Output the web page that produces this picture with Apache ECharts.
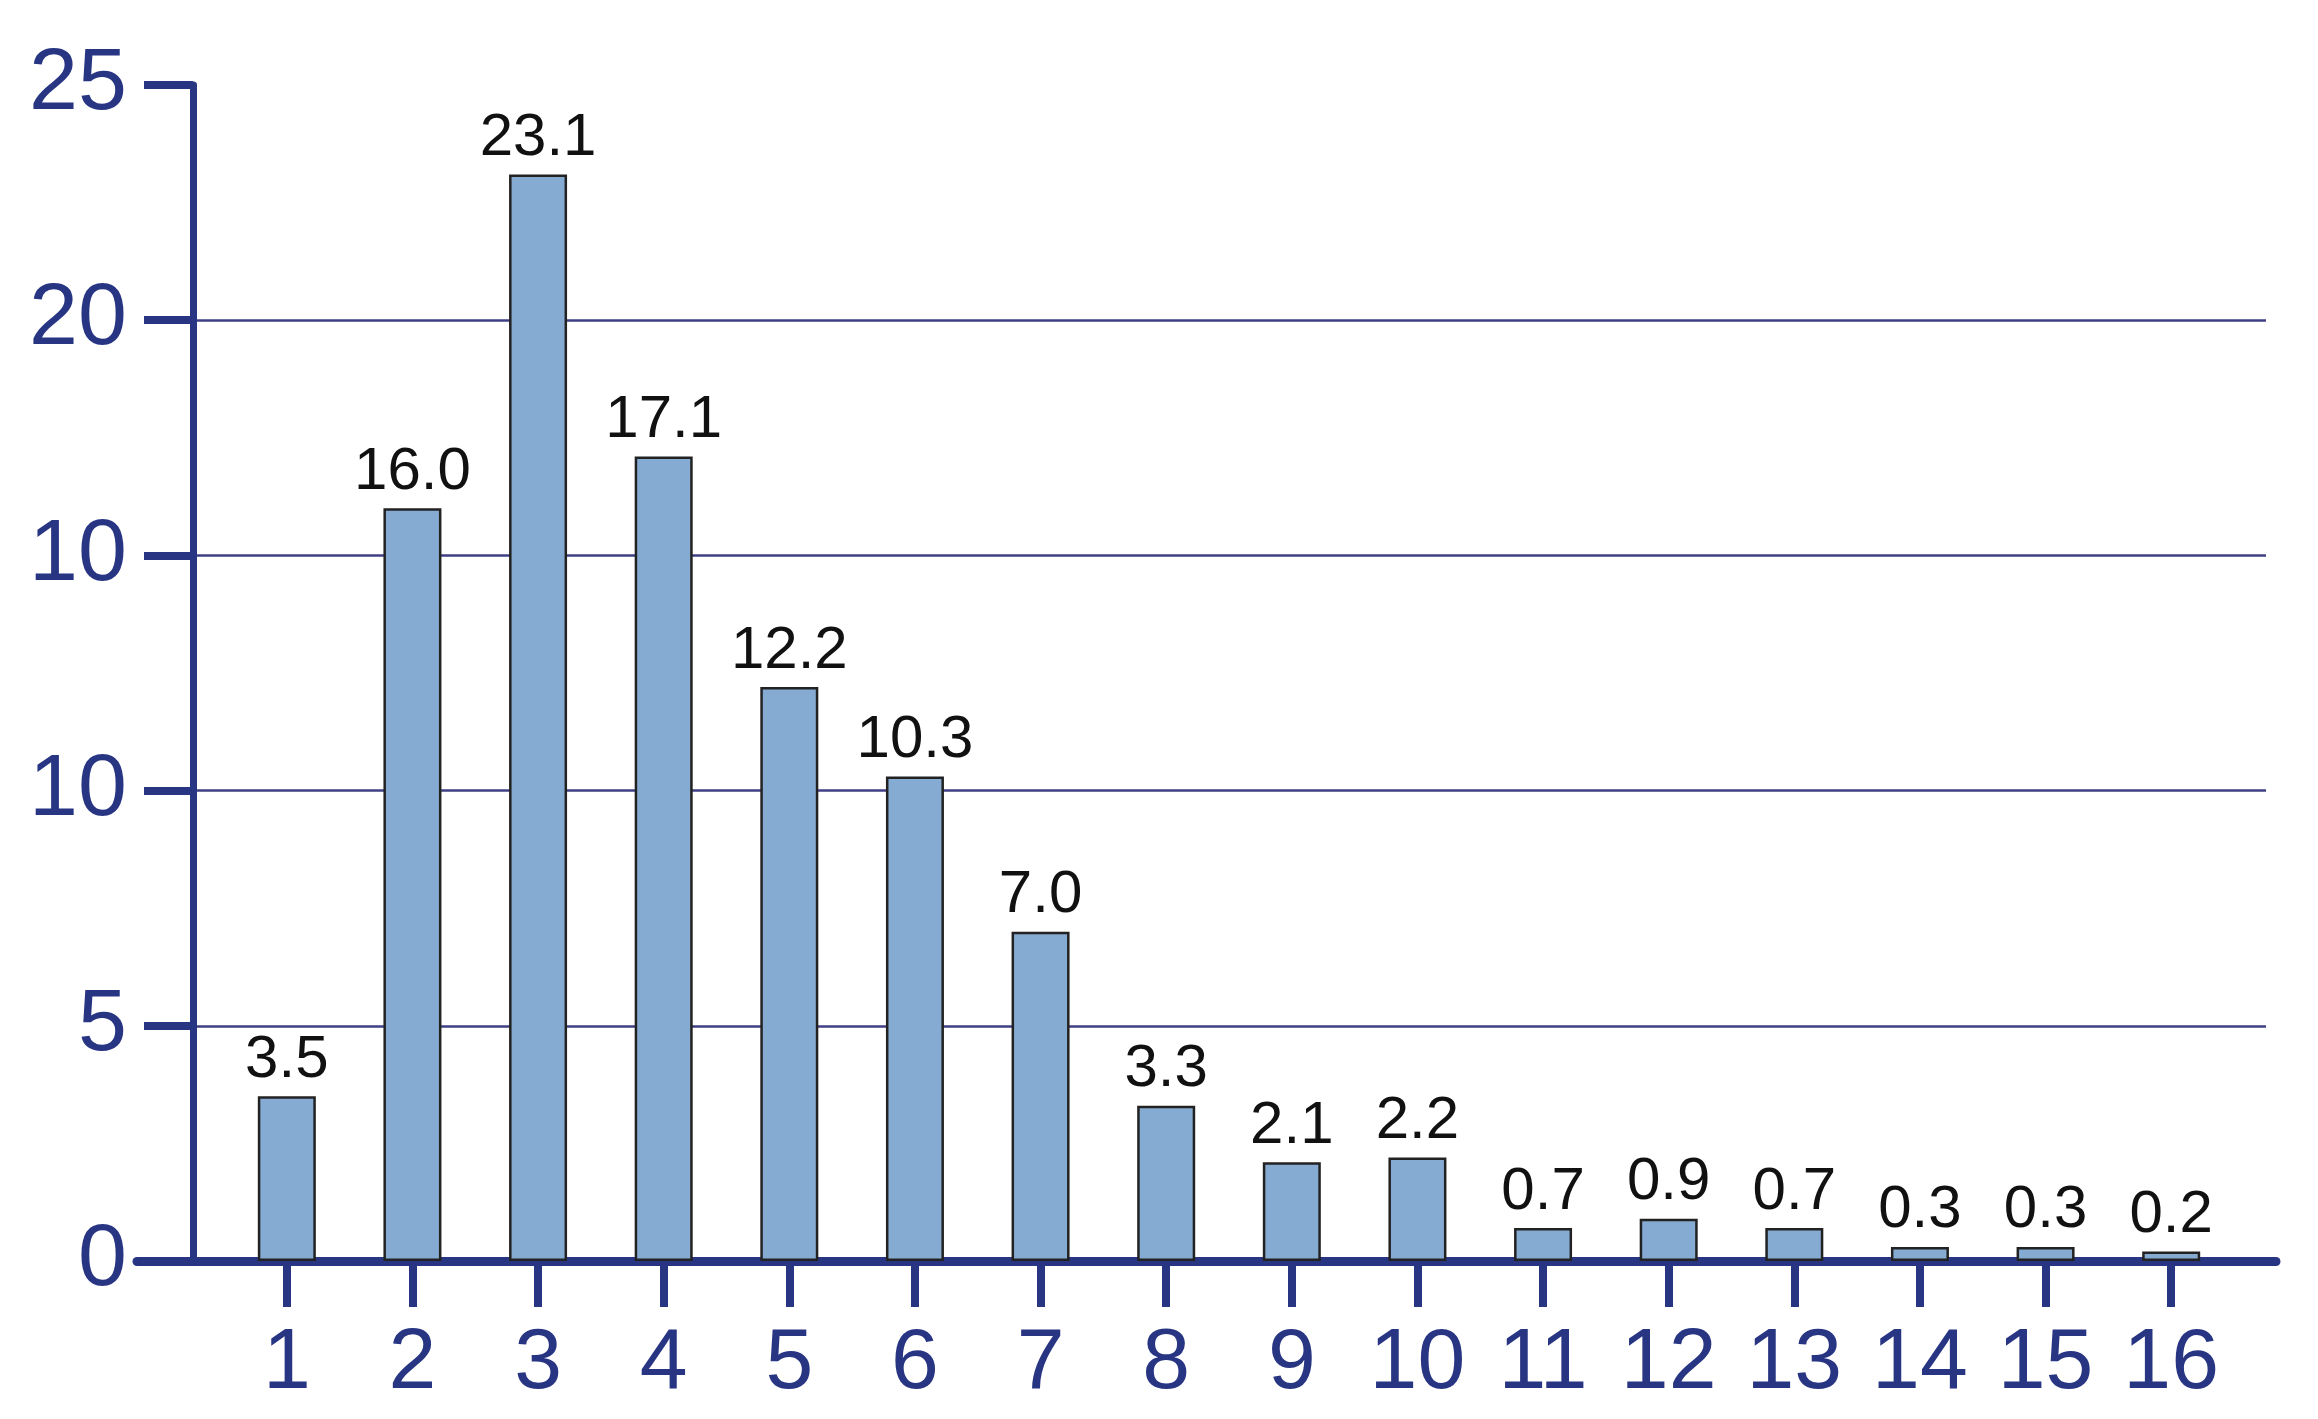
<!DOCTYPE html>
<html>
<head>
<meta charset="utf-8">
<script src="https://cdn.jsdelivr.net/npm/echarts@6/dist/echarts.min.js"></script>
<style>
html,body{margin:0;padding:0;background:#ffffff;}
#chart{width:2318px;height:1419px;}
</style>
</head>
<body>
<div id="chart"></div>
<script>
var categories = ["1","2","3","4","5","6","7","8","9","10","11","12","13","14","15","16"];
var values = [3.5, 16.0, 23.1, 17.1, 12.2, 10.3, 7.0, 3.3, 2.1, 2.2, 0.7, 0.9, 0.7, 0.3, 0.3, 0.2];
var yTickValues = [0, 5, 10, 15, 20, 25];
var yTickLabels = ["0", "5", "10", "10", "20", "25"];

var AXIS = '#283583';
var GRIDC = '#3f3f86';
var FONT = '"Liberation Sans", Arial, Helvetica, sans-serif';

var chart = echarts.init(document.getElementById('chart'));
chart.setOption({
  backgroundColor: '#ffffff',
  animation: false,
  grid: [
    {left: 224, top: 85, width: 2010, height: 1176},
    {left: 193, top: 85, width: 2073, height: 1176},
    {left: 137, top: 85, width: 2139, height: 1176}
  ],
  xAxis: [
    {
      gridIndex: 0, type: 'category', data: categories, boundaryGap: true,
      axisLine: {show: false},
      axisTick: {show: true, alignWithLabel: true, length: 46, lineStyle: {color: AXIS, width: 8}},
      axisLabel: {color: AXIS, fontSize: 86, fontFamily: FONT, margin: 60, interval: 0, hideOverlap: false}
    },
    {gridIndex: 1, type: 'value', min: 0, max: 1, show: false},
    {
      gridIndex: 2, type: 'value', min: 0, max: 1,
      axisLine: {show: true, onZero: false, lineStyle: {color: AXIS, width: 9}},
      axisTick: {show: false}, axisLabel: {show: false}, splitLine: {show: false}
    }
  ],
  yAxis: [
    {gridIndex: 0, type: 'value', min: 0, max: 25, interval: 5, show: false},
    {
      gridIndex: 1, type: 'value', min: 0, max: 25, interval: 5,
      axisLine: {show: true, lineStyle: {color: AXIS, width: 7}},
      axisTick: {show: true, length: 49, lineStyle: {color: AXIS, width: 8}},
      axisLabel: {
        color: AXIS, fontSize: 88, fontFamily: FONT, margin: 66,
        formatter: function (v) {
          var i = yTickValues.indexOf(v);
          return i >= 0 ? yTickLabels[i] : '';
        }
      },
      splitLine: {show: true, lineStyle: {color: [GRIDC, GRIDC, GRIDC, GRIDC, GRIDC, 'rgba(0,0,0,0)'], width: 2.5}}
    },
    {gridIndex: 2, type: 'value', min: 0, max: 25, show: false}
  ],
  series: [
    {
      type: 'bar', xAxisIndex: 0, yAxisIndex: 0,
      data: values, barWidth: 58, z: 5,
      itemStyle: {color: '#86abd2', borderColor: '#222222', borderWidth: 2.5},
      label: {
        show: true, position: 'top', distance: 6,
        color: '#111111', fontSize: 60, fontFamily: FONT,
        formatter: function (p) { return p.value.toFixed(1); }
      }
    }
  ]
});
</script>
</body>
</html>
